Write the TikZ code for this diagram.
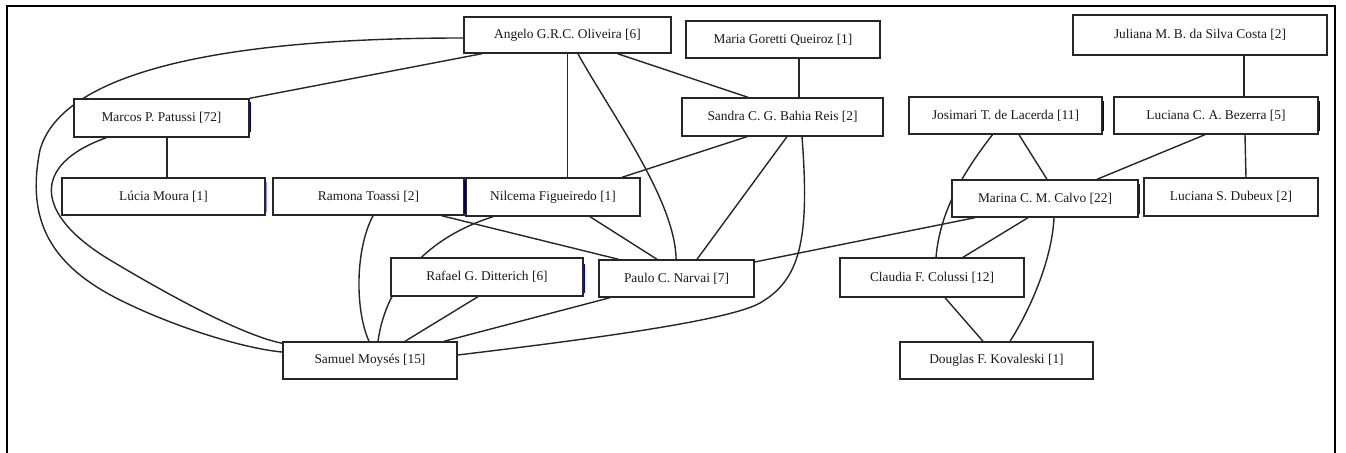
\documentclass[tikz,border=0pt]{standalone}
\usepackage{fontspec}
\setmainfont{Liberation Serif}
\usetikzlibrary{backgrounds}
\begin{document}
\begin{tikzpicture}[x=0.5pt,y=-0.5pt,
  person/.style 2 args={draw=black!85, fill=white, line width=0.7pt,
    minimum width=#1*0.5pt, minimum height=#2*0.5pt, inner sep=0pt,
    font=\fontsize{6.7}{8}\selectfont, text=black!90},
  link/.style={draw=black!85, line width=0.7pt},
  glint/.style={line width=0.7pt},
  frame/.style={draw=black, line width=1pt}]
\useasboundingbox (0,0) rectangle (1346,453);
\draw[frame] (7,453) -- (7,6) -- (1335,6) -- (1335,453);

% nodes
\node[person={207}{36}] (ang) at (567.5,35) {Angelo G.R.C. Oliveira [6]};
\node[person={194}{37}] (mgq) at (783,39.5) {Maria Goretti Queiroz [1]};
\node[person={254}{40}] (jul) at (1200,35) {Juliana M. B. da Silva Costa [2]};
\node[person={175}{38}] (mar) at (161.5,118) {Marcos P. Patussi [72]};
\node[person={201}{38}] (san) at (782.5,117) {Sandra C. G. Bahia Reis [2]};
\node[person={193}{37}] (jos) at (1005.5,115.5) {Josimari T. de Lacerda [11]};
\node[person={204}{37}] (lcb) at (1216,115.5) {Luciana C. A. Bezerra [5]};
\node[person={203}{37}] (luc) at (163.5,196.5) {Lúcia Moura [1]};
\node[person={191}{37}] (ram) at (368.5,196.5) {Ramona Toassi [2]};
\node[person={174}{38}] (nil) at (553,197) {Nilcema Figueiredo [1]};
\node[person={186}{37}] (mcc) at (1045,198.5) {Marina C. M. Calvo [22]};
\node[person={174}{38}] (lsd) at (1231,197) {Luciana S. Dubeux [2]};
\node[person={192}{38}] (raf) at (487,277) {Rafael G. Ditterich [6]};
\node[person={155}{37}] (pau) at (676.5,278.5) {Paulo C. Narvai [7]};
\node[person={184}{39}] (cla) at (932,277.5) {Claudia F. Colussi [12]};
\node[person={174}{37}] (sam) at (370,360.5) {Samuel Moysés [15]};
\node[person={193}{37}] (dou) at (996.5,360.5) {Douglas F. Kovaleski [1]};

% small coloured marks at some box edges
\draw[glint, draw=blue!40!black] ([shift={(0.5,4)}]mar.north east) -- ([shift={(0.5,-6)}]mar.south east);
\draw[glint, draw=blue!45] ([shift={(0.5,5)}]luc.north east) -- ([shift={(0.5,-4)}]luc.south east);
\draw[glint, draw=blue!40!black] ([shift={(-0.5,4)}]nil.north west) -- ([shift={(-0.5,-4)}]nil.south west);
\draw[glint, draw=blue!75!black] ([shift={(0.5,7)}]raf.north east) -- ([shift={(0.5,-4)}]raf.south east);
\draw[glint, draw=blue!85!black] ([shift={(0.5,5)}]mcc.north east) -- ([shift={(0.5,-4)}]mcc.south east);
\draw[glint, draw=blue!40!black] ([shift={(0.5,5)}]jos.north east) -- ([shift={(0.5,-4)}]jos.south east);
\draw[glint, draw=blue!40!black] ([shift={(0.5,5)}]lcb.north east) -- ([shift={(0.5,-4)}]lcb.south east);

\begin{pgfonlayer}{background}
% Angelo
\draw[link] ([shift={(-85.5,0)}]ang.south) -- (mar.north east);
\draw[link] ([shift={(0,3)}]ang.west) .. controls (200,38) and (60,78) .. (40,150)
   .. controls (26,220) and (50,265) .. (120,300)
   .. controls (170,325) and (240,348) .. (sam);
\draw[link] (ang.south) -- (ang.south |- nil.north);
\draw[link] (ang) .. controls (612,115) and (675,200) .. (pau);
\draw[link] ([shift={(50,0)}]ang.south) -- ([shift={(-34.5,0)}]san.north);
% Marcos
\draw[link] (mar) .. controls (30,165) and (35,215) .. (110,260)
   .. controls (160,290) and (240,335) .. (sam);
\draw[link] ([shift={(5.5,0)}]mar.south) -- ([shift={(3.5,0)}]luc.north);
% Maria Goretti / Sandra
\draw[link] ([shift={(16,0)}]mgq.south) -- ([shift={(16.5,0)}]san.north);
\draw[link] ([shift={(-35.5,0)}]san.south) -- ([shift={(69,0)}]nil.north);
\draw[link] ([shift={(4.5,0)}]san.south) -- ([shift={(20.5,0)}]pau.north);
\draw[link] ([shift={(19.5,0)}]san.south) .. controls (810,240) and (800,280) .. (760,303)
   .. controls (730,320) and (600,338) .. ([shift={(0,-5.5)}]sam.east);
% Ramona
\draw[link] ([shift={(4.5,0)}]ram.south) .. controls (355,250) and (355,310) .. ([shift={(-1,0)}]sam.north);
\draw[link] ([shift={(73,0)}]ram.south) -- ([shift={(-58,0)}]pau.north);
% Nilcema
\draw[link] ([shift={(-60,0)}]nil.south) .. controls (420,240) and (385,290) .. ([shift={(8,0)}]sam.north);
\draw[link] ([shift={(37,0)}]nil.south) -- ([shift={(-19.5,0)}]pau.north);
% Rafael / Paulo
\draw[link] ([shift={(-9,0)}]raf.south) -- ([shift={(35,0)}]sam.north);
\draw[link] ([shift={(-66.5,0)}]pau.south) -- ([shift={(74,0)}]sam.north);
\draw[link] ([shift={(0,-16.5)}]pau.east) -- ([shift={(-70,0)}]mcc.south);
% right group
\draw[link] ([shift={(13.5,0)}]jos.south) -- ([shift={(2,0)}]mcc.north);
\draw[link] ([shift={(-13,0)}]jos.south) .. controls (965,170) and (940,210) .. ([shift={(4,0)}]cla.north);
\draw[link] ([shift={(-11,0)}]lcb.south) -- ([shift={(52,0)}]mcc.north);
\draw[link] ([shift={(44,0)}]jul.south) -- ([shift={(28,0)}]lcb.north);
\draw[link] ([shift={(29,0)}]lcb.south) -- ([shift={(15,0)}]lsd.north);
\draw[link] ([shift={(-17,0)}]mcc.south) -- ([shift={(31,0)}]cla.north);
\draw[link] ([shift={(9,0)}]mcc.south) .. controls (1052,260) and (1030,310) .. ([shift={(13.5,0)}]dou.north);
\draw[link] ([shift={(13,0)}]cla.south) -- ([shift={(-13.5,0)}]dou.north);
\end{pgfonlayer}
\end{tikzpicture}
\end{document}
